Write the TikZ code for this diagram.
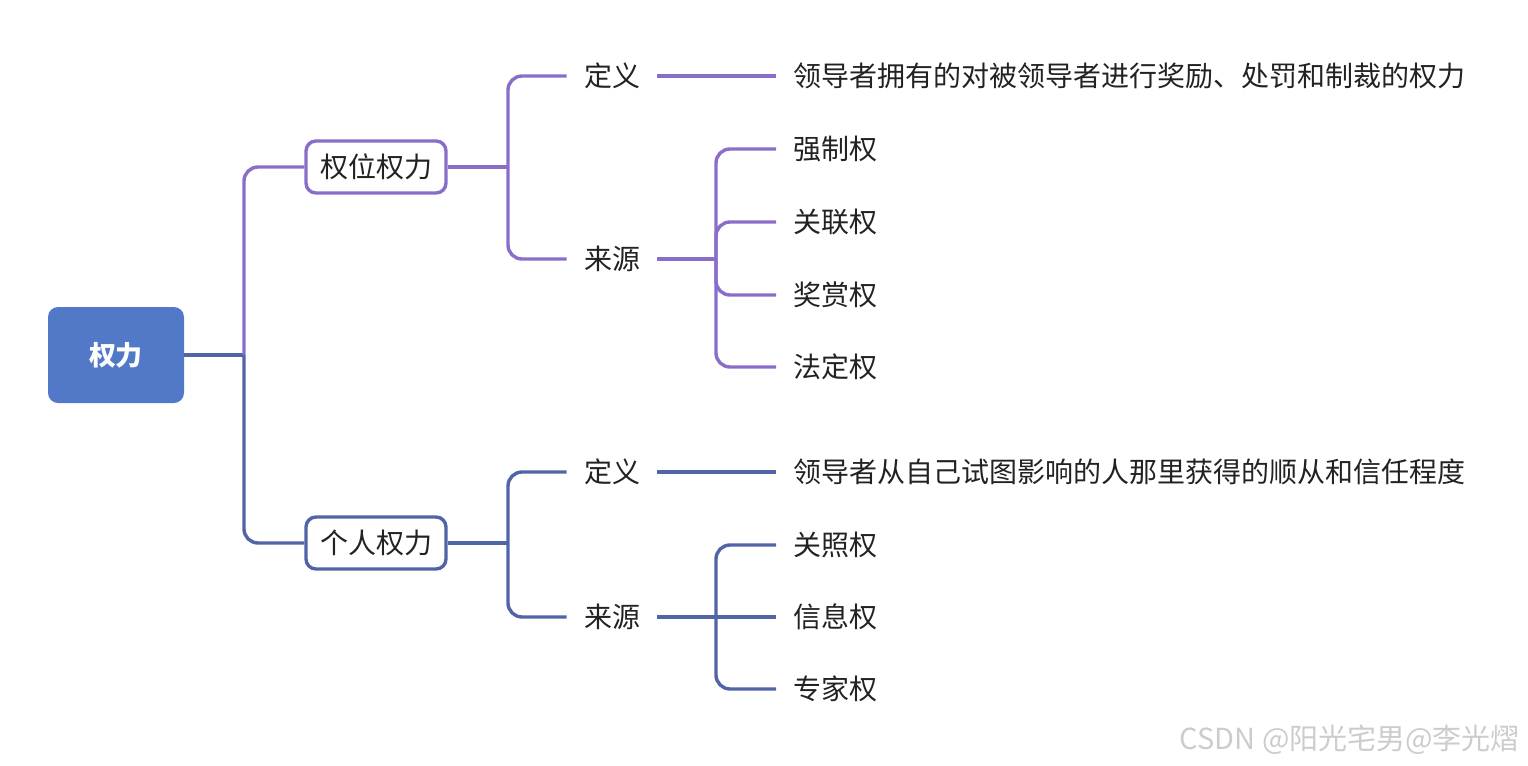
\documentclass[tikz,border=0pt]{standalone}
\usepackage{fontspec}
\setmainfont{Noto Sans CJK SC}
\usepackage{tikz}
\usetikzlibrary{positioning}

\definecolor{rootblue}{HTML}{5279C7}
\definecolor{lineblue}{HTML}{5164A6}
\definecolor{linepurple}{HTML}{8A6DC9}
\definecolor{txt}{HTML}{222222}

\begin{document}
\begin{tikzpicture}[x=0.5pt, y=-0.5pt,
    root/.style={rectangle, fill=rootblue, rounded corners=5pt, text=white,
    minimum width=68pt, minimum height=48pt, font=\fontsize{13.5}{16}\selectfont\bfseries},
    branch/.style={rectangle, draw, fill=white, line width=1.7pt, rounded corners=5pt, text=txt,
    minimum width=70pt, minimum height=26pt, font=\fontsize{14}{17}\selectfont},
    lbl/.style={inner xsep=8.5pt, text=txt, font=\fontsize{14}{17}\selectfont},
    leaf/.style={lbl, anchor=west},
    pline/.style={linepurple, line width=1.7pt, rounded corners=7pt},
    bline/.style={lineblue, line width=1.7pt, rounded corners=7pt},]
    \useasboundingbox (0,0) rectangle (1528,766);

    \node (root) [root] at (116,355) {权力};
    \node (qw) [branch, draw=linepurple] at (376,167) {权位权力};
    \node (gr) [branch, draw=lineblue] at (376,543) {个人权力};

    % 权位权力
    \node (dy1) [lbl] at (612,76) {定义};
    \node (ly1) [lbl] at (612,259) {来源};
    \node (def1) [leaf] at (776,76) {领导者拥有的对被领导者进行奖励、处罚和制裁的权力};
    \node (qzq) [leaf] at (776,149) {强制权};
    \node (glq) [leaf] at (776,222) {关联权};
    \node (jsq) [leaf] at (776,295) {奖赏权};
    \node (fdq) [leaf] at (776,367) {法定权};

    % 个人权力
    \node (dy2) [lbl] at (612,472) {定义};
    \node (ly2) [lbl] at (612,617) {来源};
    \node (def2) [leaf] at (776,472) {领导者从自己试图影响的人那里获得的顺从和信任程度};
    \node (gzq) [leaf] at (776,545) {关照权};
    \node (xxq) [leaf] at (776,617) {信息权};
    \node (zjq) [leaf] at (776,689) {专家权};

    \coordinate (hub1) at (244,355);
    \coordinate (hub2) at (508,167);
    \coordinate (hub3) at (716,259);
    \coordinate (hub4) at (508,543);
    \coordinate (hub5) at (716,617);

    \draw [bline] (root) -- (hub1);
    \draw [pline] (hub1) |- (qw);
    \draw [bline] (hub1) |- (gr);

    \draw [pline] (qw) -- (hub2);
    \draw [pline] (hub2) |- (dy1);
    \draw [pline] (hub2) |- (ly1);
    \draw [pline] (dy1) -- (def1);
    \draw [pline] (ly1) -- (hub3);
    \foreach \n in {qzq, glq, jsq, fdq}
        \draw [pline] (hub3) |- (\n);

    \draw [bline] (gr) -- (hub4);
    \draw [bline] (hub4) |- (dy2);
    \draw [bline] (hub4) |- (ly2);
    \draw [bline] (dy2) -- (def2);
    \draw [bline] (ly2) -- (xxq);
    \foreach \n in {gzq, zjq}
        \draw [bline] (hub5) |- (\n);

    \node (mark) [anchor=east, text=black!20, font=\fontsize{14.5}{17}\selectfont] at (1527,740) {CSDN @阳光宅男@李光熠};
\end{tikzpicture}
\end{document}
